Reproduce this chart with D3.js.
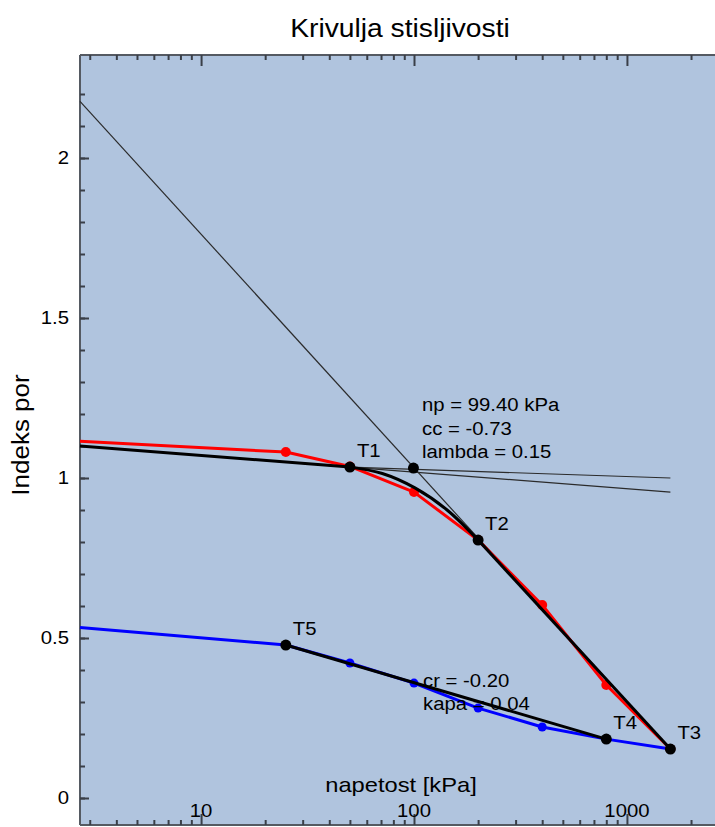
<!DOCTYPE html>
<html lang="en">
<head>
<meta charset="UTF-8">
<script src="https://d3js.org/d3.v7.min.js"></script>
<style>
  body { margin: 0; background: #fff; }
  text { font-family: "Liberation Sans", Arial, sans-serif; fill: #000; }
  .axis path { display: none; }
  .axis line { stroke: #3a3f48; stroke-width: 2; }
</style>
</head>
<body>
<svg class="chart"></svg>
<script>

// loading branch (red), kPa / void ratio; the 2.7 kPa value is where the curve leaves the frame
const loadP = [2.7, 25, 50, 100, 200, 400, 800, 1600]
const loadE = [1.115, 1.081, 1.036, 0.956, 0.806, 0.603, 0.353, 0.153]

// unloading branch (blue)
const unloadP = [1600, 800, 400, 200, 100, 50, 25, 2.7]
const unloadE = [0.153, 0.184, 0.222, 0.281, 0.359, 0.422, 0.478, 0.533]

// characteristic points
const keyNames = ["T1", "T2", "T3", "T4", "T5"]
const keyP = [50, 200, 1600, 800, 25]
const keyE = [1.034, 0.806, 0.153, 0.184, 0.478]
const npP = 99.4
const npE = 1.031

// fitted curve between T1 and T2
const fitP = [50, 71, 101, 143, 200]
const fitE = [1.034, 1.014, 0.969, 0.900, 0.806]

// construction lines
const ccP = [2.7, 1600], ccE = [2.177, 0.153]
const tanP = [2.7, 1600], tanE = [1.100, 0.956]
const bisP = [50, 1600], bisE = [1.034, 1.000]
const crP = [25, 800], crE = [0.478, 0.184]

const yTicks = [0, 0.5, 1, 1.5, 2]
const xLabels = [10, 100, 1000]
const noteTop = ["np = 99.40 kPa", "cc = -0.73", "lambda = 0.15"]
const noteBottom = ["cr = -0.20", "kapa = 0.04"]

const W = 715, H = 827
const plot = {left: 80, top: 55, right: 716, bottom: 825}
const SX = 1.13   // the original text is drawn a bit wider than Arial

const svg = d3.select(".chart")
    .attr("width", W)
    .attr("height", H)

let x = d3.scaleLog()
    .domain([2.7, 2620])
    .range([plot.left, plot.right])

let y = d3.scaleLinear()
    .domain([0, 1])
    .range([798, 478])

const zip = (ps, es) => ps.map((p, i) => [p, es[i]])

function label(g, str, px, py, size, anchor) {
  return g.append("text")
      .attr("transform", `translate(${px},${py}) scale(${SX},1)`)
      .attr("text-anchor", anchor || "start")
      .style("font-size", size + "px")
      .text(str)
}

svg.append("rect")
    .attr("x", plot.left)
    .attr("y", plot.top)
    .attr("width", plot.right - plot.left)
    .attr("height", plot.bottom - plot.top)
    .attr("fill", "#b0c4de")

// title
label(svg, "Krivulja stisljivosti", 400, 37, 25, "middle")

// frame lines
svg.append("g")
    .selectAll("line")
    .data([[plot.left, plot.top, plot.right, plot.top],
           [plot.left, plot.bottom, plot.right, plot.bottom],
           [plot.left, plot.top, plot.left, plot.bottom]])
    .enter().append("line")
      .attr("x1", d => d[0]).attr("y1", d => d[1])
      .attr("x2", d => d[2]).attr("y2", d => d[3])
      .attr("stroke", "#555a62")
      .attr("stroke-width", 2)

// x ticks (log) on top and bottom, pointing inward
const allX = x.ticks().filter(v => v >= 3)
const isDecade = v => Math.abs(Math.log10(v) - Math.round(Math.log10(v))) < 1e-9

svg.append("g")
    .attr("class", "axis")
    .attr("transform", `translate(0,${plot.top})`)
    .call(d3.axisTop(x).tickValues(allX.filter(v => !isDecade(v))).tickSize(-5).tickFormat(""))
svg.append("g")
    .attr("class", "axis")
    .attr("transform", `translate(0,${plot.top})`)
    .call(d3.axisTop(x).tickValues(allX.filter(isDecade)).tickSize(-11).tickFormat(""))
svg.append("g")
    .attr("class", "axis")
    .attr("transform", `translate(0,${plot.bottom})`)
    .call(d3.axisBottom(x).tickValues(allX.filter(v => !isDecade(v))).tickSize(-5).tickFormat(""))
svg.append("g")
    .attr("class", "axis")
    .attr("transform", `translate(0,${plot.bottom})`)
    .call(d3.axisBottom(x).tickValues(allX.filter(isDecade)).tickSize(-11).tickFormat(""))

// y ticks
svg.append("g")
    .attr("class", "axis")
    .attr("transform", `translate(${plot.left},0)`)
    .call(d3.axisLeft(y).tickValues(d3.range(0, 23).map(i => i / 10)).tickSize(-5).tickFormat(""))
svg.append("g")
    .attr("class", "axis")
    .attr("transform", `translate(${plot.left},0)`)
    .call(d3.axisLeft(y).tickValues(yTicks).tickSize(-9).tickPadding(11).tickFormat(d3.format("")))
    .selectAll("text")
      .attr("x", -11 / SX)
      .attr("transform", `scale(${SX},1)`)
      .style("font-size", "18px")
      .style("font-family", "Liberation Sans, Arial, sans-serif")
      .attr("fill", "#000")

// x tick labels, inside the plot
const xl = svg.append("g")
xLabels.forEach(v => label(xl, v, x(v), 817, 18, "middle"))

// axis titles
label(svg, "napetost [kPa]", 401, 792, 21, "middle")
svg.append("text")
    .attr("transform", `translate(29,435) rotate(-90) scale(${SX},1)`)
    .attr("text-anchor", "middle")
    .style("font-size", "23px")
    .text("Indeks por")

const line = d3.line().x(d => x(d[0])).y(d => y(d[1]))
const smooth = d3.line().x(d => x(d[0])).y(d => y(d[1])).curve(d3.curveCatmullRom)

const curves = svg.append("g").attr("fill", "none")

// thin construction lines
curves.selectAll(".thin")
    .data([zip(ccP, ccE), zip(tanP, tanE), zip(bisP, bisE)])
    .enter().append("path")
      .attr("d", line)
      .attr("stroke", "#2b2b2b")
      .attr("stroke-width", 1.2)

// measured curves
curves.append("path")
    .attr("d", line(zip(loadP, loadE)))
    .attr("stroke", "#ff0000")
    .attr("stroke-width", 3)
    .attr("stroke-linejoin", "round")
curves.append("path")
    .attr("d", line(zip(unloadP, unloadE)))
    .attr("stroke", "#0000ff")
    .attr("stroke-width", 3)
    .attr("stroke-linejoin", "round")

svg.append("g")
    .selectAll("circle")
    .data(zip(loadP.slice(1), loadE.slice(1)))
    .enter().append("circle")
      .attr("cx", d => x(d[0]))
      .attr("cy", d => y(d[1]))
      .attr("r", 5)
      .attr("fill", "#ff0000")
svg.append("g")
    .selectAll("circle")
    .data(zip(unloadP.slice(0, -1), unloadE.slice(0, -1)))
    .enter().append("circle")
      .attr("cx", d => x(d[0]))
      .attr("cy", d => y(d[1]))
      .attr("r", 4.5)
      .attr("fill", "#0000ff")

// fitted black lines
const thick = svg.append("g")
    .attr("fill", "none")
    .attr("stroke", "#000")
    .attr("stroke-width", 3)
thick.append("path").attr("d", line([[tanP[0], tanE[0]], [keyP[0], keyE[0]]]))
thick.append("path").attr("d", smooth(zip(fitP, fitE)))
thick.append("path").attr("d", line([[keyP[1], keyE[1]], [keyP[2], keyE[2]]]))
thick.append("path").attr("d", line(zip(crP, crE)))

// black points
svg.append("g")
    .selectAll("circle")
    .data(zip(keyP, keyE).concat([[npP, npE]]))
    .enter().append("circle")
      .attr("cx", d => x(d[0]))
      .attr("cy", d => y(d[1]))
      .attr("r", 5.5)
      .attr("fill", "#000")

const names = svg.append("g")
keyNames.forEach((n, i) => label(names, n, x(keyP[i]) + 7, y(keyE[i]) - 10, 18))

// notes
const notes = svg.append("g")
noteTop.forEach((s, i) => label(notes, s, 422, 411 + i * 23.5, 18))
noteBottom.forEach((s, i) => label(notes, s, 423, 687 + i * 23, 18))

</script>
</body>
</html>
